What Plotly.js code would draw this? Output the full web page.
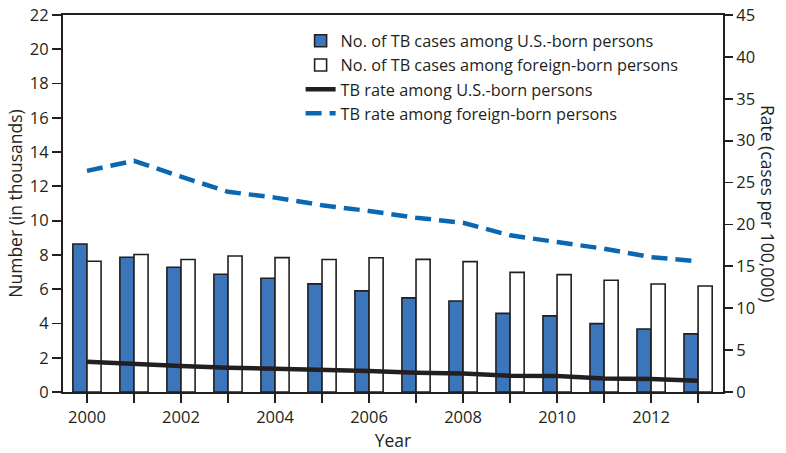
<!DOCTYPE html>
<html>
<head>
<meta charset="utf-8">
<script src="https://cdn.plot.ly/plotly-3.0.1.min.js"></script>
<style>html,body{margin:0;padding:0;background:#fff;}#chart{width:786px;height:453px;}</style>
</head>
<body>
<div id="chart"></div>
<script>
const years = [2000,2001,2002,2003,2004,2005,2006,2007,2008,2009,2010,2011,2012,2013];
const xTickVals = [2000,2001,2002,2003,2004,2005,2006,2007,2008,2009,2010,2011,2012,2013];
const xTickText = ["2000","","2002","","2004","","2006","","2008","","2010","","2012",""];
// Number of TB cases (in thousands)
const usBornCases = [8.64,7.86,7.28,6.87,6.64,6.31,5.90,5.49,5.31,4.59,4.44,3.99,3.68,3.39];
const foreignBornCases = [7.63,8.02,7.73,7.94,7.84,7.73,7.83,7.74,7.61,6.98,6.85,6.52,6.30,6.19];
// TB rate (cases per 100,000)
const usBornRate = [3.6,3.3,3.1,2.9,2.8,2.6,2.5,2.3,2.2,1.95,1.9,1.6,1.55,1.35];
const foreignBornRate = [26.4,27.6,25.7,23.9,23.2,22.3,21.6,20.8,20.2,18.7,17.9,17.1,16.1,15.6];

const names = [
  "No. of TB cases among U.S.-born persons",
  "No. of TB cases among foreign-born persons",
  "TB rate among U.S.-born persons",
  "TB rate among foreign-born persons"
];

const FONT = "'Open Sans', sans-serif";
const INK = "#231f20";

const traces = [
  {type:"bar", x:years, y:usBornCases, name:names[0],
   marker:{color:"#3b75ba", line:{color:INK, width:1.6}}, hoverinfo:"skip"},
  {type:"bar", x:years, y:foreignBornCases, name:names[1],
   marker:{color:"#ffffff", line:{color:INK, width:1.6}}, hoverinfo:"skip"},
  {type:"scatter", mode:"lines", x:years, y:usBornRate, yaxis:"y2", name:names[2],
   line:{color:INK, width:4.5}, hoverinfo:"skip"},
  {type:"scatter", mode:"lines", x:years, y:foreignBornRate, yaxis:"y2", name:names[3],
   line:{color:"#0a67b1", width:4.5, dash:"16px,8px"}, hoverinfo:"skip"}
];

const layout = {
  width:786, height:453,
  margin:{l:63, r:63, t:15, b:61},
  paper_bgcolor:"#fff", plot_bgcolor:"#fff",
  font:{family:FONT, size:16.5, color:INK},
  barmode:"group", bargap:0.4, bargroupgap:0,
  showlegend:true,
  legend:{x:0.36, y:0.977, xanchor:"left", yanchor:"top", bgcolor:"rgba(0,0,0,0)",
          font:{family:FONT, size:16.3, color:INK}, traceorder:"normal"},
  xaxis:{range:[1999.49,2013.53], tickmode:"array", tickvals:xTickVals, ticktext:xTickText,
         ticks:"outside", ticklen:9, tickwidth:1.8, tickcolor:INK,
         showline:true, linecolor:INK, linewidth:2, mirror:true,
         showgrid:false, zeroline:false, tickfont:{size:16.5},
         title:{text:"Year", font:{size:17.5}, standoff:5}},
  yaxis:{range:[0,22], dtick:2, ticks:"outside", ticklen:9, tickwidth:1.8, tickcolor:INK,
         showline:true, linecolor:INK, linewidth:2, showgrid:false, zeroline:false,
         tickfont:{size:16.5},
         title:{text:"Number (in thousands)", font:{size:17.5}, standoff:3}},
  yaxis2:{range:[0,45], dtick:5, overlaying:"y", side:"right",
          ticks:"outside", ticklen:8, tickwidth:1.8, tickcolor:INK,
          showline:true, linecolor:INK, linewidth:2, showgrid:false, zeroline:false,
          tickfont:{size:16.5}},
  annotations:[{text:"Rate (cases per 100,000)", xref:"paper", yref:"paper",
                x:1.069, y:0.5, xanchor:"center", yanchor:"middle", textangle:90,
                showarrow:false, font:{family:FONT, size:17.5, color:INK}}]
};

Plotly.newPlot("chart", traces, layout, {staticPlot:true, displayModeBar:false});
</script>
</body>
</html>
